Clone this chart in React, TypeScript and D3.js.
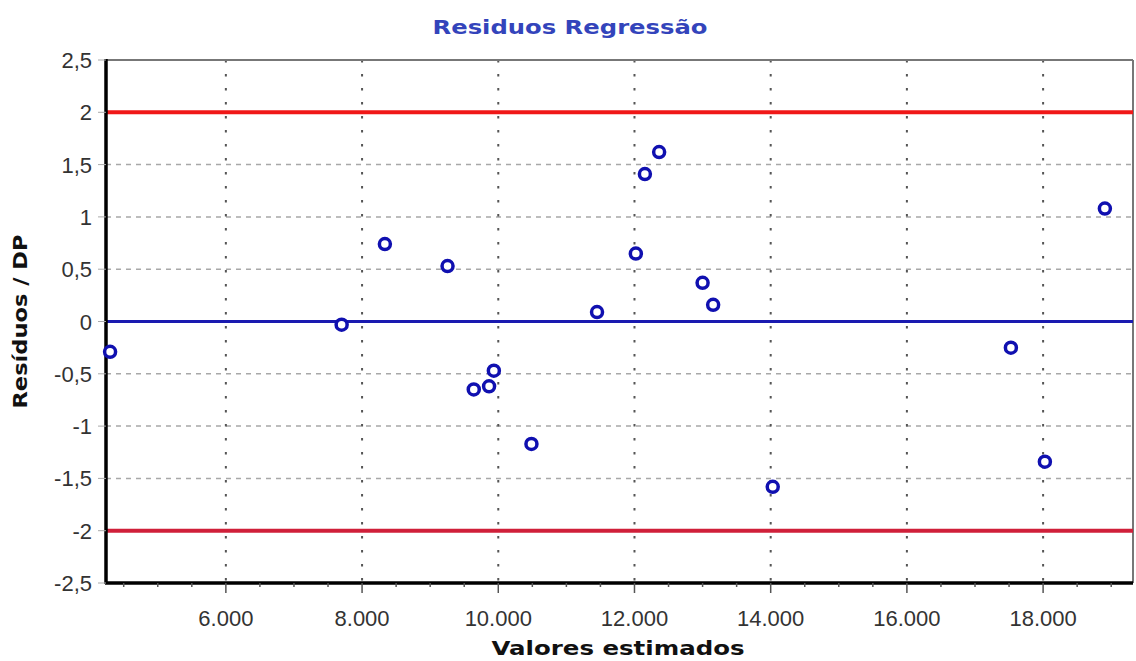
import React from "react";
import * as d3 from "d3";

const xValues = [4300, 7700, 8335, 9255, 9640, 9865, 9935, 10487, 11450, 12020, 12153, 12362, 13000, 13155, 14030, 17527, 18026, 18907];
const yValues = [-0.29, -0.03, 0.74, 0.53, -0.65, -0.62, -0.47, -1.17, 0.09, 0.65, 1.41, 1.62, 0.37, 0.16, -1.58, -0.25, -1.34, 1.08];
const xTicks = [6000, 8000, 10000, 12000, 14000, 16000, 18000];
const xMinorTicks = [4500, 5000, 5500, 6500, 7000, 7500, 8500, 9000, 9500, 10500, 11000, 11500, 12500, 13000, 13500, 14500, 15000, 15500, 16500, 17000, 17500, 18500, 19000];
const yTicks = [2.5, 2, 1.5, 1, 0.5, 0, -0.5, -1, -1.5, -2, -2.5];
const limitLines = [2, -2];
const title = "Residuos Regressão";
const xLabel = "Valores estimados";
const yLabel = "Resíduos / DP";

const W = 1136, H = 661;
const L = 106, R = 1133, T = 60, B = 583;

export default function App() {
  const x = d3.scaleLinear().domain([4240, 19320]).range([L, R]);
  const y = d3.scaleLinear().domain([-2.5, 2.5]).range([B, T]);
  const fmtX = (v: number) => d3.format(",")(v).replace(/,/g, ".");
  const fmtY = (v: number) => String(v).replace(".", ",");
  const font = "'Liberation Sans', Arial, sans-serif";
  const boldFont = "'DejaVu Sans', Verdana, sans-serif";
  return (
    <div style={{ position: "absolute", left: 0, top: 0 }}>
      <svg width={W} height={H} style={{ display: "block", background: "#fff" }} fontFamily={font}>
        <text x={570} y={34} textAnchor="middle" fontSize={20} fontWeight="bold" fill="#3344bb" fontFamily={boldFont} textLength={275} lengthAdjust="spacingAndGlyphs">{title}</text>
        {/* horizontal dashed grid */}
        {yTicks.filter(v => Math.abs(v) !== 2.5 && Math.abs(v) !== 2 && v !== 0).map(v => (
          <line key={"hg" + v} x1={L} x2={R} y1={y(v)} y2={y(v)} stroke="#a8a8a8" strokeWidth={1.5} strokeDasharray="5,5" />
        ))}
        {/* vertical dotted grid */}
        {xTicks.map(v => (
          <line key={"vg" + v} x1={x(v)} x2={x(v)} y1={T} y2={B} stroke="#555" strokeWidth={2} strokeDasharray="2.5,11.5" />
        ))}
        {/* frame */}
        <line x1={L} x2={R} y1={T} y2={T} stroke="#777" strokeWidth={2} />
        <line x1={R} x2={R} y1={T} y2={B} stroke="#777" strokeWidth={2} />
        {/* limit lines */}
        {limitLines.map(v => (
          <line key={"lim" + v} x1={L} x2={R} y1={y(v)} y2={y(v)} stroke={v > 0 ? "#f01818" : "#d0203a"} strokeWidth={4} />
        ))}
        <line x1={L} x2={R} y1={y(0)} y2={y(0)} stroke="#1a1ab0" strokeWidth={3} />
        {/* axes */}
        <line x1={L} x2={L} y1={T - 1} y2={B + 1} stroke="#000" strokeWidth={3.5} />
        <line x1={L - 1} x2={R} y1={B} y2={B} stroke="#000" strokeWidth={3.5} />
        {xTicks.map(v => (
          <line key={"xt" + v} x1={x(v)} x2={x(v)} y1={B} y2={B + 10} stroke="#555" strokeWidth={1.5} />
        ))}
        {xMinorTicks.map(v => (
          <line key={"xm" + v} x1={x(v)} x2={x(v)} y1={B} y2={B + 4} stroke="#555" strokeWidth={1.5} />
        ))}
        {yTicks.map(v => (
          <line key={"yt" + v} x1={L - 8} x2={L} y1={y(v)} y2={y(v)} stroke="#aaa" strokeWidth={1} />
        ))}
        {yTicks.map(v => (
          <text key={"yl" + v} x={L - 14} y={y(v) + 8} textAnchor="end" fontSize={22} fill="#333">{fmtY(v)}</text>
        ))}
        {xTicks.map(v => (
          <text key={"xl" + v} x={x(v)} y={B + 43} textAnchor="middle" fontSize={22} fill="#333">{fmtX(v)}</text>
        ))}
        <text x={618} y={655} textAnchor="middle" fontSize={19} fontWeight="bold" fill="#111" fontFamily={boldFont} textLength={253} lengthAdjust="spacingAndGlyphs">{xLabel}</text>
        <text transform={`translate(27, ${y(0)}) rotate(-90)`} textAnchor="middle" fontSize={19} fontWeight="bold" fill="#111" fontFamily={boldFont} textLength={174} lengthAdjust="spacingAndGlyphs">{yLabel}</text>
        {/* points */}
        {xValues.map((v, i) => (
          <circle key={"p" + i} cx={x(v)} cy={y(yValues[i])} r={5.5} fill="#fff" stroke="#1010b0" strokeWidth={3.5} />
        ))}
      </svg>
    </div>
  );
}
